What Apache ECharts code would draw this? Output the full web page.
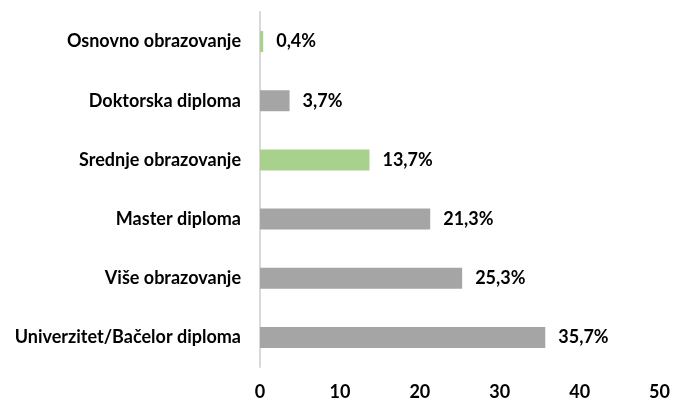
<!DOCTYPE html>
<html><head><meta charset="utf-8">
<script src="https://cdn.jsdelivr.net/npm/echarts@6/dist/echarts.min.js"></script>
<style>html,body{margin:0;padding:0;background:#fff}#c{width:673px;height:401px}</style>
</head><body><div id="c"></div>
<script>
const categories = ["Univerzitet/Bačelor diploma","Više obrazovanje","Master diploma","Srednje obrazovanje","Doktorska diploma","Osnovno obrazovanje"];
const values = [35.7, 25.3, 21.3, 13.7, 3.7, 0.4];
const barColors = ["#a5a5a5","#a5a5a5","#a5a5a5","#a9d18e","#a5a5a5","#a9d18e"];
const xTicks = [0,10,20,30,40,50];

const font = 'Lato, "Noto Sans", sans-serif';
const chart = echarts.init(document.getElementById('c'));
chart.setOption({
  animation:false,
  grid:{left:260,right:11,top:12,bottom:34,containLabel:false},
  xAxis:{type:'value',min:xTicks[0],max:xTicks[xTicks.length-1],interval:10,
    splitLine:{show:false},axisLine:{show:false},axisTick:{show:false},
    axisLabel:{color:'#000',fontFamily:font,fontWeight:'bold',fontSize:18,margin:16}},
  yAxis:{type:'category',data:categories,
    axisLine:{show:true,lineStyle:{color:'#d9d9d9',width:2}},axisTick:{show:false},
    axisLabel:{color:'#000',fontFamily:font,fontWeight:'bold',fontSize:18,margin:19}},
  series:[{type:'bar',barWidth:21,
    data:values.map((v,i)=>({value:v,itemStyle:{color:barColors[i]}})),
    label:{show:true,position:'right',distance:13,color:'#000',fontFamily:font,fontWeight:'bold',fontSize:18,
      formatter:p=>p.value.toFixed(1).replace('.',',')+'%'}}]
});
</script></body></html>
